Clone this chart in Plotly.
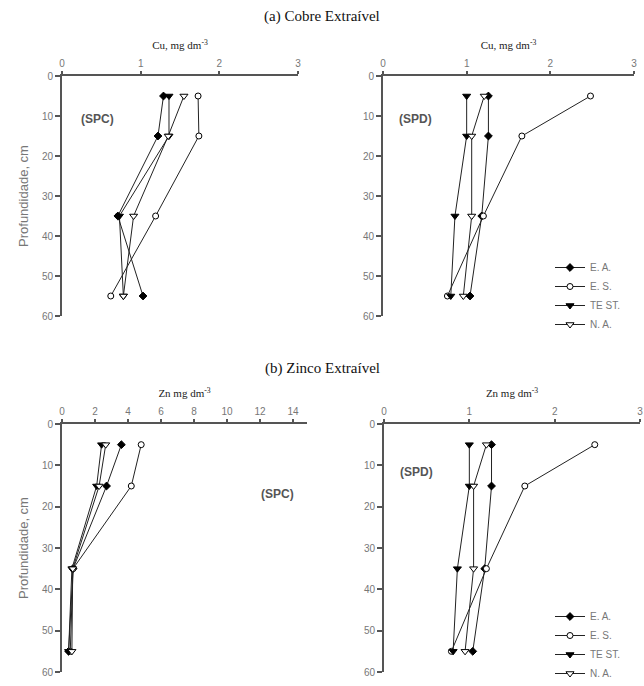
import plotly.graph_objects as go

depth = [5, 15, 35, 55]
series_names = ["E. A.", "E. S.", "TE ST.", "N. A."]

# (a) Cobre - SPC
cu_spc_ea = [1.29, 1.22, 0.71, 1.03]
cu_spc_es = [1.73, 1.74, 1.19, 0.62]
cu_spc_test = [1.36, 1.36, 0.73, 0.78]
cu_spc_na = [1.55, 1.35, 0.91, 0.78]
# (a) Cobre - SPD
cu_spd_ea = [1.26, 1.26, 1.18, 1.04]
cu_spd_es = [2.48, 1.66, 1.20, 0.77]
cu_spd_test = [1.00, 1.00, 0.86, 0.81]
cu_spd_na = [1.21, 1.06, 1.06, 0.96]
# (b) Zinco - SPC
zn_spc_ea = [3.6, 2.7, 0.67, 0.40]
zn_spc_es = [4.8, 4.2, 0.67, 0.50]
zn_spc_test = [2.4, 2.1, 0.60, 0.40]
zn_spc_na = [2.65, 2.25, 0.65, 0.60]
# (b) Zinco - SPD
zn_spd_ea = [1.26, 1.26, 1.18, 1.04]
zn_spd_es = [2.47, 1.65, 1.20, 0.79]
zn_spd_test = [1.00, 1.00, 0.86, 0.81]
zn_spd_na = [1.20, 1.05, 1.05, 0.95]

cu_ticks = [0, 1, 2, 3]
zn_spc_ticks = [0, 2, 4, 6, 8, 10, 12, 14]
zn_spd_ticks = [0, 1, 2, 3]
depth_ticks = [0, 10, 20, 30, 40, 50, 60]

W, H = 644, 686
def px(x): return x / W
def py(y): return 1 - y / H

styles = [
    dict(symbol="diamond", size=6, color="black"),
    dict(symbol="circle", size=6, color="white"),
    dict(symbol="triangle-down", size=7, color="black"),
    dict(symbol="triangle-down", size=7, color="white"),
]

fig = go.Figure()

panels = [
    ("x", "y", [cu_spc_ea, cu_spc_es, cu_spc_test, cu_spc_na], None),
    ("x2", "y2", [cu_spd_ea, cu_spd_es, cu_spd_test, cu_spd_na], "legend"),
    ("x3", "y3", [zn_spc_ea, zn_spc_es, zn_spc_test, zn_spc_na], None),
    ("x4", "y4", [zn_spd_ea, zn_spd_es, zn_spd_test, zn_spd_na], "legend2"),
]

for xa, ya, data, leg in panels:
    for name, vals, st in zip(series_names, data, styles):
        fig.add_trace(go.Scatter(
            x=vals, y=depth, mode="lines+markers", name=name,
            xaxis=xa, yaxis=ya,
            line=dict(color="#222", width=1),
            marker=dict(size=st["size"], symbol=st["symbol"], color=st["color"],
                        line=dict(color="black", width=1)),
            showlegend=leg is not None,
            legend=leg if leg else "legend",
        ))

tickfont = dict(family="Liberation Sans, Arial", size=10, color="#777")
axcol = "#555"
titlefont = dict(family="Liberation Serif, Times New Roman", size=11, color="#222")

def xax(domain, rng, ticks, title, anchor):
    return dict(domain=domain, range=rng, tickvals=ticks, side="top", anchor=anchor,
                showline=True, linecolor=axcol, linewidth=2, ticks="outside", ticklen=3,
                tickcolor=axcol, tickwidth=2, tickfont=tickfont, showgrid=False, zeroline=False,
                automargin=False,
                title=dict(text=title, font=titlefont, standoff=6))

def yax(domain, anchor, title):
    return dict(domain=domain, range=[60, 0], tickvals=depth_ticks, anchor=anchor,
                showline=True, linecolor=axcol, linewidth=2, ticks="outside", ticklen=5,
                tickcolor=axcol, tickwidth=1.5, tickfont=tickfont, showgrid=False, zeroline=False,
                automargin=False,
                title=dict(text=title, font=dict(family="Liberation Sans, Arial", size=13, color="#777"),
                           standoff=10))

ytop = [py(316), py(76)]
ybot = [py(672), py(424)]

legfont = dict(family="Liberation Sans, Arial", size=10, color="#777")
fig.update_layout(
    width=W, height=H, margin=dict(l=0, r=0, t=0, b=0, autoexpand=False),
    paper_bgcolor="white", plot_bgcolor="white",
    xaxis=xax([px(62), px(298)], [0, 3], cu_ticks, "Cu, mg dm<sup>-3</sup>", "y"),
    yaxis=yax(ytop, "x", "Profundidade, cm"),
    xaxis2=xax([px(383), px(634)], [0, 3], cu_ticks, "Cu, mg dm<sup>-3</sup>", "y2"),
    yaxis2=yax(ytop, "x2", ""),
    xaxis3=xax([px(62), px(307)], [0, 14.85], zn_spc_ticks, "Zn mg dm<sup>-3</sup>", "y3"),
    yaxis3=yax(ybot, "x3", "Profundidade, cm"),
    xaxis4=xax([px(384), px(640)], [0, 3], zn_spd_ticks, "Zn mg dm<sup>-3</sup>", "y4"),
    yaxis4=yax(ybot, "x4", ""),
    legend=dict(x=px(550), y=py(253), xanchor="left", yanchor="top", font=legfont,
                bgcolor="rgba(0,0,0,0)", tracegroupgap=0, itemwidth=30),
    legend2=dict(x=px(550), y=py(602), xanchor="left", yanchor="top", font=legfont,
                 bgcolor="rgba(0,0,0,0)", tracegroupgap=0, itemwidth=30),
    showlegend=True,
)

serif = dict(family="Liberation Serif, Times New Roman", size=15, color="#111")
bold = dict(family="Liberation Sans, Arial", size=12, color="#555")
ann = [
    dict(text="(a) Cobre Extraível", x=px(322), y=py(17), font=serif),
    dict(text="(b) Zinco Extraível", x=px(322), y=py(369), font=serif),
    dict(text="<b>(SPC)</b>", x=px(97), y=py(119), font=bold),
    dict(text="<b>(SPD)</b>", x=px(415), y=py(119), font=bold),
    dict(text="<b>(SPC)</b>", x=px(277), y=py(494), font=bold),
    dict(text="<b>(SPD)</b>", x=px(416), y=py(472), font=bold),
]
for a in ann:
    fig.add_annotation(xref="paper", yref="paper", showarrow=False,
                       xanchor="center", yanchor="middle", **a)

fig.write_html(
    "out.html",
    config={"displayModeBar": False},
    post_script="document.body.style.margin='0';document.body.style.overflow='hidden';",
)
